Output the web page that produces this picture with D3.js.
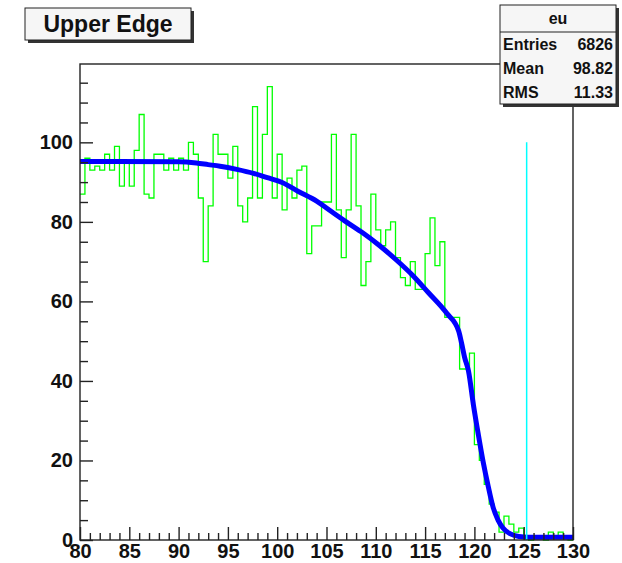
<!DOCTYPE html>
<html>
<head>
<meta charset="utf-8">
<script src="https://cdn.jsdelivr.net/npm/d3@7"></script>
<style>
  html, body { margin: 0; padding: 0; background: #ffffff; }
  svg { display: block; font-family: "Liberation Sans", Arial, Helvetica, sans-serif; font-weight: bold; }
</style>
</head>
<body>
<svg id="chart" width="622" height="563"></svg>
<script>
// Histogram "eu": 100 bins of width 0.5 spanning 80..130
const binLow = 80;
const binWidth = 0.5;
const counts = [
  87, 96, 93, 94, 93, 97, 93, 99, 89, 95,
  89, 98, 107, 87, 86, 97, 97, 93, 96, 93,
  96, 93, 100, 97, 86, 70, 84, 102, 97, 97,
  91, 99, 84, 80, 86, 109, 86, 102, 114, 86,
  97, 83, 91, 86, 93, 94, 72, 79, 79, 85,
  85, 102, 83, 71, 83, 102, 84, 64, 70, 87,
  78, 74, 78, 80, 71, 66, 64, 70, 63, 63,
  72, 81, 69, 75, 56, 56, 56, 43, 43, 47,
  24, 20, 14, 9, 7, 2, 6, 4, 2, 3,
  1, 0, 1, 1, 0, 2, 1, 2, 1, 0
];

// Fitted edge function, sampled along x
const fitX = [80, 90, 91.8, 93, 94.2, 95.9, 97.6, 99, 100.5, 102.1, 104, 105.5, 107, 108.7,
  110.4, 112, 113.8, 115.3, 117.2, 118.4, 118.7, 119.0, 119.4, 119.9, 120.4, 120.9,
  121.4, 121.9, 122.4, 122.9, 123.6, 124.5, 125.5, 130];
const fitY = [95.2, 95.1, 94.8, 94.4, 94.0, 93.2, 92.2, 91.1, 89.9, 87.7, 85.2, 82.6, 80.0, 77.2,
  74.0, 70.6, 66.4, 62.3, 57.0, 52.6, 49.5, 46.0, 42.5, 34.0, 26.5, 19.5,
  13.5, 8.2, 5.0, 3.0, 1.6, 0.9, 0.7, 0.7];

// Marker line at the fitted edge position
const edgeX = 125.3;
const edgeTop = 100;

// Axis ranges and ticks
const xDomain = [80, 130];
const yDomain = [0, 119.7];
const xMajor = [80, 85, 90, 95, 100, 105, 110, 115, 120, 125, 130];
const yMajor = [0, 20, 40, 60, 80, 100];

// Title and statistics box
const titleText = "Upper Edge";
const statsName = "eu";
const statsLabels = ["Entries", "Mean", "RMS"];
const statsValues = ["6826", "98.82", "11.33"];

const svg = d3.select("#chart");
const frame = { left: 80, right: 573, top: 64, bottom: 540 };

const x = d3.scaleLinear().domain(xDomain).range([frame.left, frame.right]);
const y = d3.scaleLinear().domain(yDomain).range([frame.bottom, frame.top]);

const xMinor = d3.range(xDomain[0], xDomain[1] + 0.001, 1).filter(v => !xMajor.includes(v));
const yMinor = d3.range(0, 120, 5).filter(v => !yMajor.includes(v));

// Histogram outline (step line)
const steps = [];
counts.forEach((c, i) => {
  const lo = binLow + i * binWidth;
  steps.push([lo, c], [lo + binWidth, c]);
});
svg.append("path")
  .datum(steps)
  .attr("fill", "none")
  .attr("stroke", "#00ff00")
  .attr("stroke-width", 1.3)
  .attr("d", d3.line().x(d => x(d[0])).y(d => y(d[1])));

// Fit curve
svg.append("path")
  .datum(fitX.map((v, i) => [v, fitY[i]]))
  .attr("fill", "none")
  .attr("stroke", "#0000ff")
  .attr("stroke-width", 5)
  .attr("d", d3.line().curve(d3.curveMonotoneX).x(d => x(d[0])).y(d => y(d[1])));

// Edge marker
svg.append("line")
  .attr("x1", x(edgeX)).attr("x2", x(edgeX))
  .attr("y1", y(0)).attr("y2", y(edgeTop))
  .attr("stroke", "#00ffff")
  .attr("stroke-width", 1.5);

// Frame
svg.append("rect")
  .attr("x", frame.left).attr("y", frame.top)
  .attr("width", frame.right - frame.left)
  .attr("height", frame.bottom - frame.top)
  .attr("fill", "none")
  .attr("stroke", "#222")
  .attr("stroke-width", 1.4);

// Axes: ticks point into the frame
const axisStyle = g => {
  g.select(".domain").remove();
  g.selectAll("line").attr("stroke", "#222").attr("stroke-width", 1.4);
  g.selectAll("text").attr("fill", "#111").style("font-size", "20px").style("font-weight", "bold")
    .style("font-family", "'Liberation Sans', Arial, sans-serif");
};

svg.append("g")
  .attr("transform", `translate(0,${frame.bottom})`)
  .call(d3.axisBottom(x).tickValues(xMinor).tickSizeInner(-7).tickSizeOuter(0).tickFormat(""))
  .call(axisStyle);
svg.append("g")
  .attr("transform", `translate(0,${frame.bottom})`)
  .call(d3.axisBottom(x).tickValues(xMajor).tickSizeInner(-13).tickSizeOuter(0).tickPadding(4).tickFormat(d3.format("d")))
  .call(axisStyle);

svg.append("g")
  .attr("transform", `translate(${frame.left},0)`)
  .call(d3.axisLeft(y).tickValues(yMinor).tickSizeInner(-8).tickSizeOuter(0).tickFormat(""))
  .call(axisStyle);
svg.append("g")
  .attr("transform", `translate(${frame.left},0)`)
  .call(d3.axisLeft(y).tickValues(yMajor).tickSizeInner(-13).tickSizeOuter(0).tickPadding(7).tickFormat(d3.format("d")))
  .call(axisStyle);

// Title box with shadow
const tb = { x: 25, y: 8, w: 166, h: 32 };
svg.append("rect").attr("x", tb.x + 3).attr("y", tb.y + 3).attr("width", tb.w).attr("height", tb.h).attr("fill", "#333");
svg.append("rect").attr("x", tb.x).attr("y", tb.y).attr("width", tb.w).attr("height", tb.h)
  .attr("fill", "#f6f6f6").attr("stroke", "#222").attr("stroke-width", 1);
svg.append("text").attr("x", tb.x + tb.w / 2).attr("y", tb.y + 24)
  .attr("text-anchor", "middle").style("font-size", "23px").attr("fill", "#111").text(titleText);

// Statistics box with shadow
const sb = { x: 500, y: 5, w: 116, h: 99, head: 27 };
svg.append("rect").attr("x", sb.x + 3).attr("y", sb.y + 3).attr("width", sb.w).attr("height", sb.h).attr("fill", "#333");
svg.append("rect").attr("x", sb.x).attr("y", sb.y).attr("width", sb.w).attr("height", sb.h)
  .attr("fill", "#f6f6f6").attr("stroke", "#222").attr("stroke-width", 1);
svg.append("line").attr("x1", sb.x).attr("x2", sb.x + sb.w)
  .attr("y1", sb.y + sb.head).attr("y2", sb.y + sb.head).attr("stroke", "#222");
svg.append("text").attr("x", sb.x + sb.w / 2).attr("y", sb.y + 19)
  .attr("text-anchor", "middle").style("font-size", "16px").attr("fill", "#111").text(statsName);
const rowH = (sb.h - sb.head) / statsLabels.length;
statsLabels.forEach((lab, i) => {
  const by = sb.y + sb.head + rowH * i + rowH / 2 + 6;
  svg.append("text").attr("x", sb.x + 3).attr("y", by).style("font-size", "16px").attr("fill", "#111").text(lab);
  svg.append("text").attr("x", sb.x + sb.w - 3).attr("y", by).attr("text-anchor", "end")
    .style("font-size", "16px").attr("fill", "#111").text(statsValues[i]);
});
</script>
</body>
</html>
